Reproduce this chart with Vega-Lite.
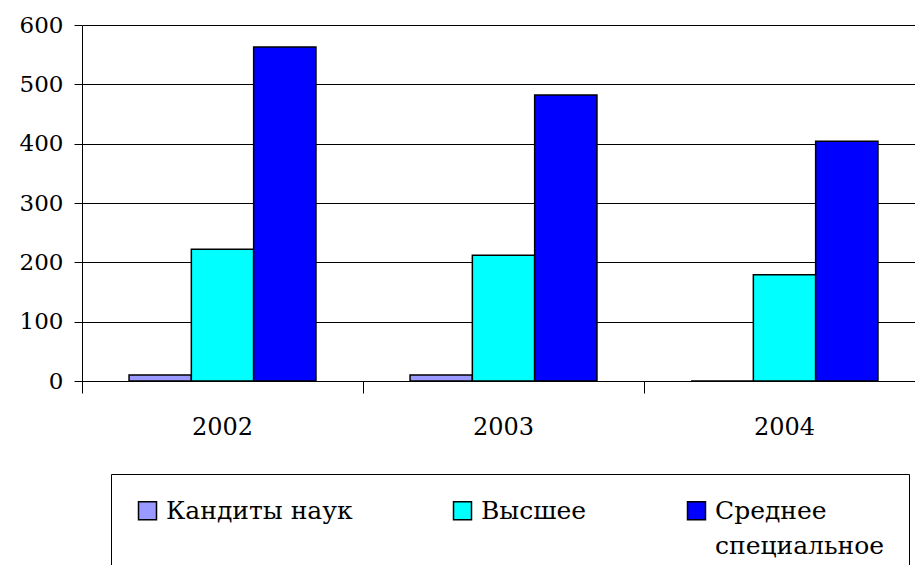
{
  "$schema": "https://vega.github.io/schema/vega-lite/v6.json",
  "width": 824,
  "height": 356,
  "autosize": {"type": "none"},
  "padding": {"left": 82, "top": 25, "right": 9, "bottom": 184},
  "background": "white",
  "data": {
    "values": [
      {"year": "2002", "series": "Кандиты наук", "value": 10},
      {"year": "2002", "series": "Высшее", "value": 222},
      {"year": "2002", "series": "Среднее специальное", "value": 563},
      {"year": "2003", "series": "Кандиты наук", "value": 10},
      {"year": "2003", "series": "Высшее", "value": 212},
      {"year": "2003", "series": "Среднее специальное", "value": 482},
      {"year": "2004", "series": "Кандиты наук", "value": 0},
      {"year": "2004", "series": "Высшее", "value": 179},
      {"year": "2004", "series": "Среднее специальное", "value": 404}
    ]
  },
  "mark": {"type": "bar", "stroke": "black", "strokeWidth": 1.5},
  "encoding": {
    "x": {
      "field": "year",
      "type": "nominal",
      "scale": {"paddingInner": 0, "paddingOuter": 0, "range": [0, 843]},
      "axis": {
        "title": null,
        "labelAngle": 0,
        "bandPosition": 0,
        "labelFont": "DejaVu Serif",
        "labelFontSize": 24,
        "labelColor": "black",
        "labelPadding": 22,
        "tickSize": 12,
        "tickColor": "black",
        "domainColor": "black",
        "labelBaseline": "top",
        "labelAlign": "center",
        "labelBound": false
      }
    },
    "xOffset": {
      "field": "series",
      "type": "nominal",
      "sort": ["Кандиты наук", "Высшее", "Среднее специальное"],
      "scale": {"paddingInner": 0, "paddingOuter": 0.755}
    },
    "y": {
      "field": "value",
      "type": "quantitative",
      "scale": {"domain": [0, 600], "nice": false},
      "axis": {
        "title": null,
        "values": [0, 100, 200, 300, 400, 500, 600],
        "labelFont": "DejaVu Serif",
        "labelFontSize": 23,
        "labelColor": "black",
        "labelPadding": 11,
        "tickSize": 8,
        "tickColor": "black",
        "domainColor": "black",
        "gridColor": "black",
        "gridWidth": 1,
        "grid": true
      }
    },
    "color": {
      "field": "series",
      "type": "nominal",
      "sort": ["Кандиты наук", "Высшее", "Среднее специальное"],
      "scale": {
        "domain": ["Кандиты наук", "Высшее", "Среднее специальное"],
        "range": ["#9999FF", "#00FFFF", "#0000FF"]
      },
      "legend": {
        "title": null,
        "orient": "none",
        "legendX": 29,
        "legendY": 449,
        "direction": "horizontal",
        "columns": 3,
        "columnPadding": 97,
        "padding": 24,
        "strokeColor": "black",
        "fillColor": "white",
        "symbolType": "square",
        "symbolSize": 324,
        "symbolStrokeColor": "black",
        "symbolStrokeWidth": 1.5,
        "labelFont": "DejaVu Serif",
        "labelFontSize": 25,
        "labelColor": "black",
        "labelLimit": 400,
        "labelOffset": 6,
        "labelExpr": "datum.label == 'Среднее специальное' ? [' Среднее', 'специальное'] : [datum.label, '']",
        "encode": {"labels": {"update": {"lineHeight": {"value": 35}}}}
      }
    }
  },
  "config": {
    "view": {"stroke": null},
    "axis": {"domainWidth": 1, "tickWidth": 1}
  }
}
